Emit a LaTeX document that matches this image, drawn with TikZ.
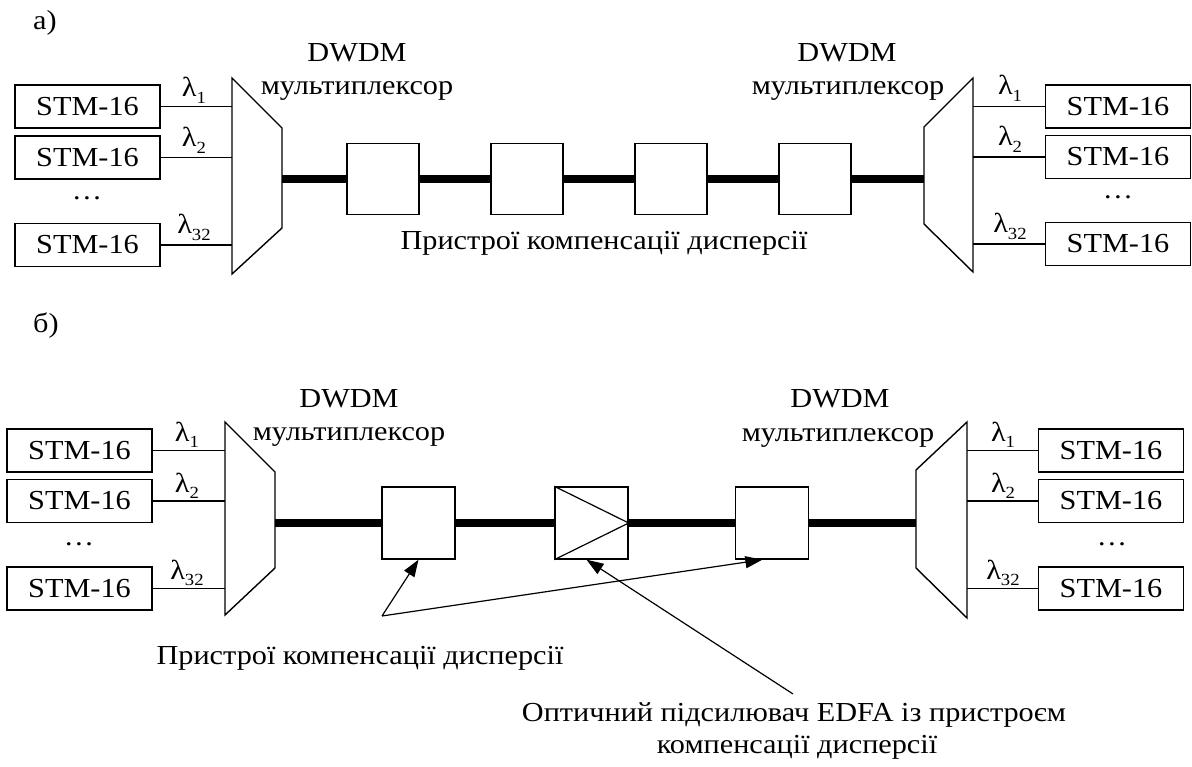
\documentclass[tikz,border=0pt]{standalone}
\usepackage{fontspec}
\setmainfont[FakeStretch=1.1]{Liberation Serif}
\usetikzlibrary{arrows.meta,calc}
\newcommand\lamb[1]{λ\raisebox{-0.22em}{\fontsize{17}{17}\selectfont #1}}
\begin{document}
\begin{tikzpicture}[x=1pt,y=-1pt,
  txt/.style={font=\fontsize{27.5}{32}\selectfont, inner sep=0pt},
  stm/.style={draw, line width=1.4pt, minimum width=145pt, minimum height=43pt, inner sep=0pt, font=\fontsize{27.5}{32}\selectfont},
  dcm/.style={draw, line width=1.4pt, fill=white, inner sep=0pt, minimum width=72pt, minimum height=71pt},
  mux/.style={line width=1.4pt, line join=miter},
  thinline/.style={line width=1.2pt},
  fiber/.style={line width=7.5pt},
  ptr/.style={line width=1.2pt, -{Triangle[length=17pt,width=12pt]}},
]
\path[use as bounding box] (0,0) rectangle (1192,767);

% ================= panel a =================
\node[txt, anchor=base west] (la) at (33,30) {а)};

% left STM boxes
\node[stm] (sA1) at (87.5,106.5) {STM-16};
\node[stm] (sA2) at (87.5,157.5) {STM-16};
\node[stm] (sA3) at (87.5,245) {STM-16};
\node[txt, anchor=base] (dA1) at (87,200) {…};

% left mux
\coordinate (mA1tl) at (232,78);
\coordinate (mA1tr) at (282,128);
\coordinate (mA1br) at (282,228);
\coordinate (mA1bl) at (232,274);
\draw[mux] (mA1tl) -- (mA1tr) -- (mA1br) -- (mA1bl) -- cycle;

\draw[thinline] (sA1.east) -- (sA1.east -| mA1tl);
\draw[thinline] (sA2.east) -- (sA2.east -| mA1tl);
\draw[thinline] (sA3.east) -- (sA3.east -| mA1tl);
\node[txt, anchor=base] (lA1) at (194,97) {\lamb{1}};
\node[txt, anchor=base] (lA2) at (194,147) {\lamb{2}};
\node[txt, anchor=base] (lA3) at (194,234) {\lamb{32}};

\node[txt, anchor=base] (tA1) at (357,62) {DWDM};
\node[txt, anchor=base] (tA2) at (357,95) {мультиплексор};

% right mux
\coordinate (mA2tl) at (924,127);
\coordinate (mA2tr) at (973,78);
\coordinate (mA2br) at (973,272);
\coordinate (mA2bl) at (924,224);
\draw[mux] (mA2tl) -- (mA2tr) -- (mA2br) -- (mA2bl) -- cycle;

\node[txt, anchor=base] (tA3) at (847,62) {DWDM};
\node[txt, anchor=base] (tA4) at (848,95) {мультиплексор};

% right STM boxes
\node[stm] (sA4) at (1118,106.5) {STM-16};
\node[stm] (sA5) at (1118,157) {STM-16};
\node[stm] (sA6) at (1118,244) {STM-16};
\node[txt, anchor=base] (dA2) at (1118,199) {…};
\draw[thinline] (sA4.west) -- (sA4.west -| mA2tr);
\draw[thinline] (sA5.west) -- (sA5.west -| mA2tr);
\draw[thinline] (sA6.west) -- (sA6.west -| mA2tr);
\node[txt, anchor=base] (lA4) at (1010,95) {\lamb{1}};
\node[txt, anchor=base] (lA5) at (1010,146) {\lamb{2}};
\node[txt, anchor=base] (lA6) at (1010,233) {\lamb{32}};

% compensators
\node[dcm] (cA1) at (383,179) {};
\node[dcm] (cA2) at (527,179) {};
\node[dcm] (cA3) at (671,179) {};
\node[dcm] (cA4) at (815,179) {};
\draw[fiber] (cA1.west -| mA1tr) -- (cA1.west);
\draw[fiber] (cA1.east) -- (cA2.west);
\draw[fiber] (cA2.east) -- (cA3.west);
\draw[fiber] (cA3.east) -- (cA4.west);
\draw[fiber] (cA4.east) -- (cA4.east -| mA2tl);

\node[txt, anchor=base] (pA) at (604,250) {Пристрої компенсації дисперсії};

% ================= panel b =================
\node[txt, anchor=base west] (lb) at (33,333) {б)};

\node[stm] (sB1) at (79.5,450.5) {STM-16};
\node[stm] (sB2) at (79.5,501) {STM-16};
\node[stm] (sB3) at (79.5,588.5) {STM-16};
\node[txt, anchor=base] (dB1) at (79,545) {…};

\coordinate (mB1tl) at (225,422);
\coordinate (mB1tr) at (275,472);
\coordinate (mB1br) at (275,568);
\coordinate (mB1bl) at (225,615);
\draw[mux] (mB1tl) -- (mB1tr) -- (mB1br) -- (mB1bl) -- cycle;

\draw[thinline] (sB1.east) -- (sB1.east -| mB1tl);
\draw[thinline] (sB2.east) -- (sB2.east -| mB1tl);
\draw[thinline] (sB3.east) -- (sB3.east -| mB1tl);
\node[txt, anchor=base] (lB1) at (187,441) {\lamb{1}};
\node[txt, anchor=base] (lB2) at (187,492) {\lamb{2}};
\node[txt, anchor=base] (lB3) at (187,579) {\lamb{32}};

\node[txt, anchor=base] (tB1) at (349,407) {DWDM};
\node[txt, anchor=base] (tB2) at (349,440) {мультиплексор};

\coordinate (mB2tl) at (916,470);
\coordinate (mB2tr) at (967,422);
\coordinate (mB2br) at (967,618);
\coordinate (mB2bl) at (916,568);
\draw[mux] (mB2tl) -- (mB2tr) -- (mB2br) -- (mB2bl) -- cycle;

\node[txt, anchor=base] (tB3) at (840,407) {DWDM};
\node[txt, anchor=base] (tB4) at (838,441) {мультиплексор};

\node[stm] (sB4) at (1111,450.5) {STM-16};
\node[stm] (sB5) at (1111,501) {STM-16};
\node[stm] (sB6) at (1111,588.5) {STM-16};
\node[txt, anchor=base] (dB2) at (1112,545) {…};
\draw[thinline] (sB4.west) -- (sB4.west -| mB2tr);
\draw[thinline] (sB5.west) -- (sB5.west -| mB2tr);
\draw[thinline] (sB6.west) -- (sB6.west -| mB2tr);
\node[txt, anchor=base] (lB4) at (1003,441) {\lamb{1}};
\node[txt, anchor=base] (lB5) at (1003,492) {\lamb{2}};
\node[txt, anchor=base] (lB6) at (1003,579) {\lamb{32}};

\node[dcm, minimum width=73pt, minimum height=72pt] (cB1) at (418.5,523) {};
\node[dcm, minimum width=73pt, minimum height=72pt] (amp) at (591.5,523) {};
\node[dcm, minimum width=73pt, minimum height=72pt] (cB3) at (772,523) {};
\draw[thinline, line join=miter] (amp.north west) -- (amp.east) -- (amp.south west);

\draw[fiber] (cB1.west -| mB1tr) -- (cB1.west);
\draw[fiber] (cB1.east) -- (amp.west);
\draw[fiber] (amp.east) -- (cB3.west);
\draw[fiber] (cB3.east) -- (cB3.east -| mB2tl);

\node[txt, anchor=base] (pB) at (360,664) {Пристрої компенсації дисперсії};
\coordinate (apex) at (382,616);
\draw[ptr] (apex) -- (cB1.south);
\draw[ptr] (apex) -- ($(cB3.south west)!0.37!(cB3.south east)$);

\node[txt, anchor=base] (eB1) at (794,721) {Оптичний підсилювач EDFA із пристроєм};
\node[txt, anchor=base] (eB2) at (797,753) {компенсації дисперсії};
\draw[ptr] ($(eB1.north)+(-1,-8)$) -- ($(amp.south)+(-5,0)$);
\end{tikzpicture}
\end{document}
